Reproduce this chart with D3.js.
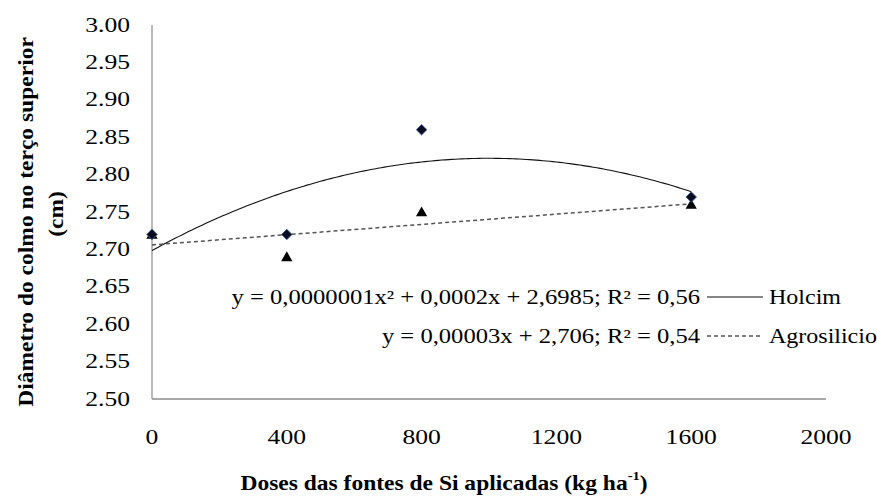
<!DOCTYPE html>
<html><head><meta charset="utf-8">
<script src="https://cdn.jsdelivr.net/npm/d3@7"></script>
<style>
html,body{margin:0;padding:0;background:#fff;}
svg text{font-family:"Liberation Serif","Times New Roman",serif;fill:#000;}
</style></head>
<body>
<svg id="c" width="877" height="496"></svg>
<script>
// ---- data ----
const doses = [0, 400, 800, 1600];
const holcim = [2.72, 2.72, 2.86, 2.77];
const agrosilicio = [2.72, 2.69, 2.75, 2.76];
const seriesNames = ["Holcim", "Agrosilicio"];
const equations = ["y = 0,0000001x\u00B2 + 0,0002x + 2,6985; R\u00B2 = 0,56",
                   "y = 0,00003x + 2,706; R\u00B2 = 0,54"];
const xTicks = [0, 400, 800, 1200, 1600, 2000];
const yTicks = [2.50, 2.55, 2.60, 2.65, 2.70, 2.75, 2.80, 2.85, 2.90, 2.95, 3.00];
const yTitle = ["Diâmetro do colmo no terço superior", "(cm)"];
const xTitle = "Doses das fontes de Si aplicadas (kg ha";

// ---- least squares trendlines (as the spreadsheet does) ----
function polyFit(xs, ys, deg) {
  const n = deg + 1;
  const A = Array.from({length: n}, () => new Array(n + 1).fill(0));
  for (let r = 0; r < n; r++) {
    for (let c = 0; c < n; c++) A[r][c] = d3.sum(xs, x => Math.pow(x, r + c));
    A[r][n] = d3.sum(xs, (x, i) => ys[i] * Math.pow(x, r));
  }
  for (let i = 0; i < n; i++) {
    let p = i;
    for (let k = i + 1; k < n; k++) if (Math.abs(A[k][i]) > Math.abs(A[p][i])) p = k;
    [A[i], A[p]] = [A[p], A[i]];
    for (let k = i + 1; k < n; k++) {
      const f = A[k][i] / A[i][i];
      for (let j = i; j <= n; j++) A[k][j] -= f * A[i][j];
    }
  }
  const co = new Array(n).fill(0);
  for (let i = n - 1; i >= 0; i--) {
    let s = A[i][n];
    for (let j = i + 1; j < n; j++) s -= A[i][j] * co[j];
    co[i] = s / A[i][i];
  }
  return x => co.reduce((acc, c, i) => acc + c * Math.pow(x, i), 0);
}
const fitH = polyFit(doses, holcim, 2);
const fitA = polyFit(doses, agrosilicio, 1);

// ---- layout ----
const svg = d3.select("#c");
const x = d3.scaleLinear().domain([0, 2000]).range([152, 826]);
const y = d3.scaleLinear().domain([2.5, 3.0]).range([399, 25]);

function stext(g, str, px, py, size, sx, anchor, weight) {
  return g.append("text")
    .attr("transform", `translate(${px},${py}) scale(${sx},1)`)
    .attr("text-anchor", anchor || "start")
    .attr("dominant-baseline", "central")
    .style("font-size", size + "px")
    .style("font-weight", weight || "normal")
    .text(str);
}

// axes lines
svg.append("line").attr("x1", x(0)).attr("x2", x(0)).attr("y1", y(3.0)).attr("y2", y(2.5))
  .attr("stroke", "#8c8c8c").attr("stroke-width", 1.2);
svg.append("line").attr("x1", x(0)).attr("x2", x(2000)).attr("y1", y(2.5)).attr("y2", y(2.5))
  .attr("stroke", "#8c8c8c").attr("stroke-width", 1.5);

// tick labels
const gy = svg.append("g");
yTicks.forEach(v => stext(gy, v.toFixed(2), 130, y(v), 20, 1.28, "end"));
const gx = svg.append("g");
xTicks.forEach(v => stext(gx, String(v), x(v), 437, 20, 1.28, "middle"));

// trendlines
const xs = d3.range(0, 1601, 10);
svg.append("path")
  .attr("d", d3.line().x(d => x(d)).y(d => y(fitH(d)))(xs))
  .attr("fill", "none").attr("stroke", "#111").attr("stroke-width", 1.1);
svg.append("path")
  .attr("d", d3.line().x(d => x(d)).y(d => y(fitA(d)))([0, 1600]))
  .attr("fill", "none").attr("stroke", "#555").attr("stroke-width", 1.5)
  .attr("stroke-dasharray", "4,3");

// markers
const tri = d3.symbol().type(d3.symbolTriangle).size(55);
svg.append("g").selectAll("path").data(doses).join("path")
  .attr("d", tri)
  .attr("transform", (d, i) => `translate(${x(d)},${y(agrosilicio[i]) + 1})`)
  .attr("fill", "#000");
const dia = d3.symbol().type(d3.symbolSquare).size(56);
svg.append("g").selectAll("path").data(doses).join("path")
  .attr("d", dia)
  .attr("transform", (d, i) => `translate(${x(d)},${y(holcim[i])}) rotate(45)`)
  .attr("fill", "#0b0b1e").attr("stroke", "#3a64a8").attr("stroke-width", 0.8);

// legend
const gl = svg.append("g");
const rows = [297, 336];
stext(gl, equations[0], 700, rows[0], 20, 1.23, "end");
stext(gl, equations[1], 700, rows[1], 20, 1.23, "end");
gl.append("line").attr("x1", 707).attr("x2", 763).attr("y1", rows[0]).attr("y2", rows[0])
  .attr("stroke", "#111").attr("stroke-width", 1.1);
gl.append("line").attr("x1", 707).attr("x2", 763).attr("y1", rows[1]).attr("y2", rows[1])
  .attr("stroke", "#555").attr("stroke-width", 1.5).attr("stroke-dasharray", "4,3");
stext(gl, seriesNames[0], 769, rows[0], 20, 1.2, "start");
stext(gl, seriesNames[1], 769, rows[1], 20, 1.2, "start");

// axis titles
const gt = svg.append("g");
gt.append("text")
  .attr("transform", `translate(26,222) rotate(-90) scale(1.12,1)`)
  .attr("text-anchor", "middle").attr("dominant-baseline", "central")
  .style("font-size", "21px").style("font-weight", "bold").text(yTitle[0]);
gt.append("text")
  .attr("transform", `translate(56,214) rotate(-90) scale(1.12,1)`)
  .attr("text-anchor", "middle").attr("dominant-baseline", "central")
  .style("font-size", "21px").style("font-weight", "bold").text(yTitle[1]);
const tx = gt.append("text")
  .attr("transform", `translate(444,482) scale(1.12,1)`)
  .attr("text-anchor", "middle").attr("dominant-baseline", "central")
  .style("font-size", "21px").style("font-weight", "bold");
tx.append("tspan").text(xTitle);
tx.append("tspan").attr("dy", -7).style("font-size", "13px").text("-1");
tx.append("tspan").attr("dy", 7).text(")");
</script>
</body></html>
